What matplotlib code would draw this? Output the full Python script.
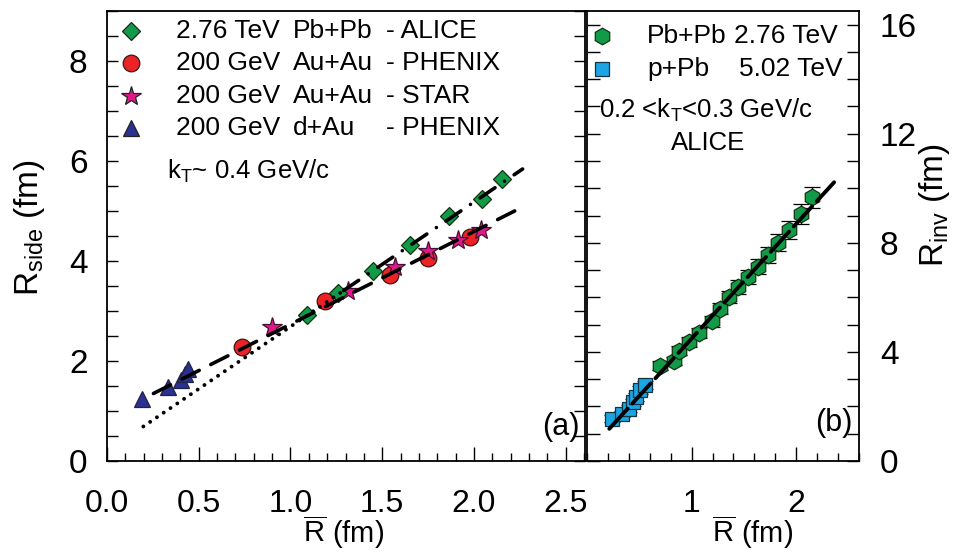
import matplotlib
matplotlib.use('Agg')
import matplotlib.pyplot as plt
from matplotlib.ticker import MultipleLocator, FixedLocator, FormatStrFormatter

plt.rcParams['font.family'] = ['Liberation Sans', 'DejaVu Sans']
plt.rcParams['mathtext.fontset'] = 'custom'
plt.rcParams['mathtext.rm'] = 'Liberation Sans'
plt.rcParams['mathtext.it'] = 'Liberation Sans:italic'

# panel (a): R_side vs Rbar
alice_x = [1.088, 1.261, 1.451, 1.651, 1.866, 2.042, 2.155]
alice_y = [2.92, 3.37, 3.81, 4.33, 4.90, 5.25, 5.65]
phenix_x = [0.734, 1.188, 1.542, 1.751, 1.978]
phenix_y = [2.29, 3.20, 3.72, 4.07, 4.49]
star_x = [0.901, 1.315, 1.569, 1.751, 1.915, 2.038]
star_y = [2.69, 3.40, 3.89, 4.19, 4.42, 4.63]
dau_x = [0.189, 0.334, 0.403, 0.425, 0.443]
dau_y = [1.25, 1.49, 1.62, 1.75, 1.85]

# fit lines (endpoints)
rhic_fit_x = [0.253, 2.232]
rhic_fit_y = [1.35, 5.02]
alice_fit_x = [1.29, 2.265]
alice_fit_y = [3.41, 5.84]
alice_ext_x = [0.198, 1.29]
alice_ext_y = [0.69, 3.41]

# panel (b): R_inv vs Rbar
pbpb_x = [0.695, 0.829, 0.876, 0.971, 1.067, 1.194, 1.276, 1.362, 1.448,
          1.536, 1.632, 1.727, 1.829, 1.933, 2.044, 2.149]
pbpb_y = [3.50, 3.66, 4.05, 4.36, 4.69, 5.13, 5.58, 6.00, 6.37,
          6.74, 7.13, 7.56, 8.00, 8.48, 9.06, 9.67]
pbpb_err = [0.15, 0.15, 0.16, 0.17, 0.18, 0.20, 0.20, 0.22, 0.25,
            0.26, 0.29, 0.29, 0.31, 0.33, 0.38, 0.39]
ppb_x = [0.241, 0.337, 0.403, 0.441, 0.473, 0.505, 0.552]
ppb_y = [1.55, 1.73, 1.91, 2.16, 2.34, 2.61, 2.80]
ppb_err = [0.12, 0.12, 0.13, 0.13, 0.14, 0.14, 0.15]
b_fit_x = [0.213, 2.362]
b_fit_y = [1.18, 10.22]

c_green = '#119a48'
c_red = '#ec2227'
c_mag = '#e3168c'
c_blue = '#2b3190'
c_cyan = '#1ba6e3'

fig = plt.figure(figsize=(9.55, 5.52), dpi=100)
ax1 = fig.add_axes([107/955, 91/552, 478/955, 450/552])
ax2 = fig.add_axes([587/955, 91/552, 272/955, 450/552])

# --- panel a
ax1.plot(dau_x, dau_y, '^', ms=12, mfc=c_blue, mec='#222244', mew=0.9, zorder=3)
ax1.plot(phenix_x, phenix_y, 'o', ms=12, mfc=c_red, mec='#441111', mew=0.9, zorder=3)
ax1.plot(star_x, star_y, '*', ms=15, mfc=c_mag, mec='#441133', mew=0.9, zorder=3)
ax1.plot(alice_x, alice_y, 'D', ms=9.5, mfc=c_green, mec='#113311', mew=0.9, zorder=3)

ax1.plot(rhic_fit_x, rhic_fit_y, color='k', lw=2.6, dashes=(5.3, 3.6),
         dash_capstyle='round', zorder=4)
ax1.plot(alice_fit_x, alice_fit_y, color='k', lw=2.6, dashes=(5.0, 3.2, 0.01, 3.2),
         dash_capstyle='round', zorder=4)
ax1.plot(alice_ext_x, alice_ext_y, color='k', lw=2.8, dashes=(0.01, 2.1),
         dash_capstyle='round', zorder=4)

ax1.set_xlim(0, 2.605)
ax1.set_ylim(0, 9)
ax1.xaxis.set_major_locator(MultipleLocator(0.5))
ax1.xaxis.set_minor_locator(MultipleLocator(0.1))
ax1.yaxis.set_major_locator(MultipleLocator(2))
ax1.yaxis.set_minor_locator(MultipleLocator(0.5))
ax1.xaxis.set_major_formatter(FormatStrFormatter('%.1f'))
ax1.tick_params(axis='both', which='both', direction='in', top=False, right=True,
                width=1.0, labelsize=23)
ax1.tick_params(axis='x', which='major', length=10, pad=20)
ax1.tick_params(axis='x', which='minor', length=6)
ax1.tick_params(axis='y', which='major', length=8, pad=14)
ax1.tick_params(axis='y', which='minor', length=8)
ax1.tick_params(axis='y', labelsize=24)
for s in ax1.spines.values():
    s.set_linewidth(1.3)

ax1.set_ylabel(r'R$_{\mathrm{side}}$ (fm)', fontsize=24)
ax1.yaxis.set_label_coords(-0.125, 0.518)
ax1.set_xlabel(r'$\overline{\mathrm{R}}$ (fm)', fontsize=21)
ax1.xaxis.set_label_coords(0.496, -0.118)

leg_y = [0.956, 0.884, 0.811, 0.740]
leg_mk = [('D', c_green, 9.5), ('o', c_red, 12), ('*', c_mag, 15), ('^', c_blue, 12)]
leg_c1 = ['2.76 TeV', '200 GeV', '200 GeV', '200 GeV']
leg_c2 = ['Pb+Pb', 'Au+Au', 'Au+Au', 'd+Au']
leg_c3 = ['- ALICE', '- PHENIX', '- STAR', '- PHENIX']
for yy, (m, c, ms), t1, t2, t3 in zip(leg_y, leg_mk, leg_c1, leg_c2, leg_c3):
    ax1.plot([0.050], [yy], m, ms=ms, mfc=c, mec='#222222', mew=0.9,
             transform=ax1.transAxes, clip_on=False)
    ax1.text(0.144, yy, t1, transform=ax1.transAxes, fontsize=19, va='center')
    ax1.text(0.388, yy, t2, transform=ax1.transAxes, fontsize=19, va='center')
    ax1.text(0.584, yy, t3, transform=ax1.transAxes, fontsize=19, va='center')
ax1.text(0.126, 0.644, r'k$_\mathrm{T}$~ 0.4 GeV/c', transform=ax1.transAxes,
         fontsize=18.5, va='center')
ax1.text(0.988, 0.076, '(a)', transform=ax1.transAxes, fontsize=22,
         ha='right', va='center')

# --- panel b
ax2.errorbar(ppb_x, ppb_y, yerr=ppb_err, fmt='s', ms=10, mfc=c_cyan, mec='#113344',
             mew=0.9, ecolor='k', elinewidth=1.0, capsize=6, zorder=3)
ax2.errorbar(pbpb_x, pbpb_y, yerr=pbpb_err, fmt='h', ms=12, mfc=c_green, mec='#113311',
             mew=0.9, ecolor='k', elinewidth=1.0, capsize=6, zorder=3)
ax2.plot(b_fit_x, b_fit_y, color='k', lw=2.8, dashes=(7, 1.8),
         dash_capstyle='round', zorder=4)

ax2.set_xlim(0, 2.6)
ax2.set_ylim(0, 16.5)
ax2.xaxis.set_major_locator(FixedLocator([1, 2]))
ax2.xaxis.set_minor_locator(MultipleLocator(0.2))
ax2.yaxis.set_major_locator(MultipleLocator(4))
ax2.yaxis.set_minor_locator(MultipleLocator(1))
ax2.tick_params(axis='both', which='both', direction='in', top=False, left=True,
                right=True, labelleft=False, labelright=True, width=1.0, labelsize=23)
ax2.tick_params(axis='x', which='major', length=10, pad=20)
ax2.tick_params(axis='x', which='minor', length=6)
ax2.tick_params(axis='y', which='both', length=9, pad=15, labelsize=24)
for s in ax2.spines.values():
    s.set_linewidth(1.3)

ax2.yaxis.set_label_position('right')
ax2.set_ylabel(r'R$_{\mathrm{inv}}$ (fm)', fontsize=24)
ax2.yaxis.set_label_coords(1.215, 0.569)
ax2.set_xlabel(r'$\overline{\mathrm{R}}$ (fm)', fontsize=21)
ax2.xaxis.set_label_coords(0.607, -0.118)

ax2.plot([0.055], [0.944], 'h', ms=12, mfc=c_green, mec='#113311', mew=0.9,
         transform=ax2.transAxes, clip_on=False)
ax2.plot([0.055], [0.871], 's', ms=10, mfc=c_cyan, mec='#113344', mew=0.9,
         transform=ax2.transAxes, clip_on=False)
ax2.text(0.221, 0.944, 'Pb+Pb', transform=ax2.transAxes, fontsize=19, va='center')
ax2.text(0.540, 0.944, '2.76 TeV', transform=ax2.transAxes, fontsize=19, va='center')
ax2.text(0.221, 0.871, 'p+Pb', transform=ax2.transAxes, fontsize=19, va='center')
ax2.text(0.557, 0.871, '5.02 TeV', transform=ax2.transAxes, fontsize=19, va='center')
ax2.text(0.044, 0.780, r'0.2 <k$_\mathrm{T}$<0.3 GeV/c', transform=ax2.transAxes,
         fontsize=18.5, va='center')
ax2.text(0.445, 0.707, 'ALICE', transform=ax2.transAxes, fontsize=18.5,
         ha='center', va='center')
ax2.text(0.975, 0.084, '(b)', transform=ax2.transAxes, fontsize=22,
         ha='right', va='center')

fig.savefig('out.png', dpi=100)
